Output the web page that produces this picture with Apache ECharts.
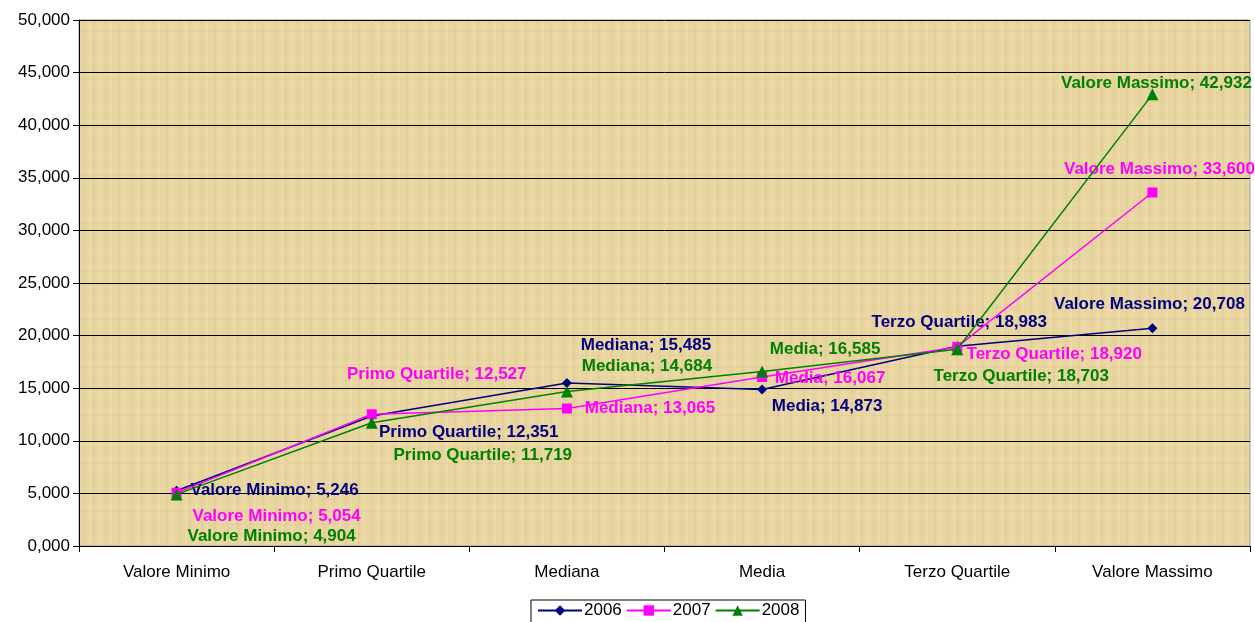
<!DOCTYPE html>
<html>
<head>
<meta charset="utf-8">
<script src="https://cdn.jsdelivr.net/npm/echarts@6/dist/echarts.min.js"></script>
<style>
html, body { margin: 0; padding: 0; background: #fff; }
#chart { width: 1255px; height: 622px; }
</style>
</head>
<body>
<div id="chart"></div>
<script>
var categories = ['Valore Minimo', 'Primo Quartile', 'Mediana', 'Media', 'Terzo Quartile', 'Valore Massimo'];
var years = ['2006', '2007', '2008'];
var values2006 = [5246, 12351, 15485, 14873, 18983, 20708];
var values2007 = [5054, 12527, 13065, 16067, 18920, 33600];
var values2008 = [4904, 11719, 14684, 16585, 18703, 42932];
var yTicks = [0, 5000, 10000, 15000, 20000, 25000, 30000, 35000, 40000, 45000, 50000];

// where each data label sits, relative to its point
var labelOffsets = [
    [[98, 0], [97, 16], [79, -38], [65, 17], [2, -24], [-3, -24]],
    [[100, 23], [65, -40], [83, 0], [68, 1], [97, 7], [7, -23]],
    [[95, 42], [111, 33], [80, -25], [63, -22], [64, 27], [4, -11]]
];
var colors = ['#000080', '#FF00FF', '#008000'];
var symbols = ['diamond', 'rect', 'triangle'];
var symbolSizes = [10, 10, 12];
var font = 'Liberation Sans, Arial, sans-serif';

function fmt(v) {
    return v.toLocaleString('en-US');
}

// papyrus-like fill for the plot area (fixed stripes, no randomness)
function papyrus() {
    var c = document.createElement('canvas');
    c.width = 48;
    c.height = 48;
    var ctx = c.getContext('2d');
    ctx.fillStyle = '#E9D5A0';
    ctx.fillRect(0, 0, 48, 48);
    var vx = [3, 9, 14, 22, 27, 35, 41, 45];
    var hy = [5, 12, 19, 26, 31, 38, 44];
    ctx.globalAlpha = 0.3;
    vx.forEach(function (x, i) {
        ctx.fillStyle = i % 2 ? '#D8C38A' : '#F3E6BE';
        ctx.fillRect(x, 0, 2, 48);
    });
    hy.forEach(function (y, i) {
        ctx.fillStyle = i % 2 ? '#F1E3B8' : '#DCC891';
        ctx.fillRect(0, y, 48, 1);
    });
    return c;
}

var myChart = echarts.init(document.getElementById('chart'));

var series = [values2006, values2007, values2008].map(function (vals, s) {
    return {
        name: years[s],
        type: 'line',
        symbol: symbols[s],
        symbolSize: symbolSizes[s],
        lineStyle: {color: colors[s], width: 1.5},
        itemStyle: {color: colors[s]},
        z: 3 + s,
        data: vals.map(function (v, i) {
            return {
                value: v,
                label: {
                    show: true,
                    position: 'inside',
                    offset: labelOffsets[s][i],
                    formatter: function (p) {
                        return p.name + '; ' + fmt(p.value);
                    },
                    color: colors[s],
                    fontFamily: font,
                    fontWeight: 'bold',
                    fontSize: 17
                }
            };
        })
    };
});

var option = {
    animation: false,
    textStyle: {fontFamily: font},
    grid: {
        left: 79,
        right: 5,
        top: 20,
        bottom: 76,
        show: true,
        backgroundColor: {image: papyrus(), repeat: 'repeat'},
        borderColor: '#9a9a9a',
        borderWidth: 1
    },
    legend: {
        top: 600,
        left: 531,
        data: years,
        itemWidth: 44,
        itemHeight: 13,
        itemGap: 4,
        borderColor: '#000',
        borderWidth: 1,
        borderRadius: 0,
        padding: [2, 6, 12, 6],
        textStyle: {fontSize: 17, color: '#000', padding: [0, 0, 0, -3]}
    },
    xAxis: {
        type: 'category',
        data: categories,
        boundaryGap: true,
        axisLine: {lineStyle: {color: '#000', width: 1}},
        axisTick: {show: true, alignWithLabel: false, length: 6, lineStyle: {color: '#000'}},
        axisLabel: {color: '#000', fontSize: 17, margin: 18}
    },
    yAxis: {
        type: 'value',
        min: yTicks[0],
        max: yTicks[yTicks.length - 1],
        interval: yTicks[1] - yTicks[0],
        axisLine: {show: true, lineStyle: {color: '#000', width: 1}},
        axisTick: {show: true, length: 6, lineStyle: {color: '#000'}},
        axisLabel: {
            color: '#000',
            fontSize: 17,
            margin: 9,
            formatter: function (v) {
                return Math.floor(v / 1000) + ',000';
            }
        },
        splitLine: {lineStyle: {color: '#000', width: 1}}
    },
    series: series
};

myChart.setOption(option);
window.addEventListener('resize', function () {
    myChart.resize();
});
</script>
</body>
</html>
